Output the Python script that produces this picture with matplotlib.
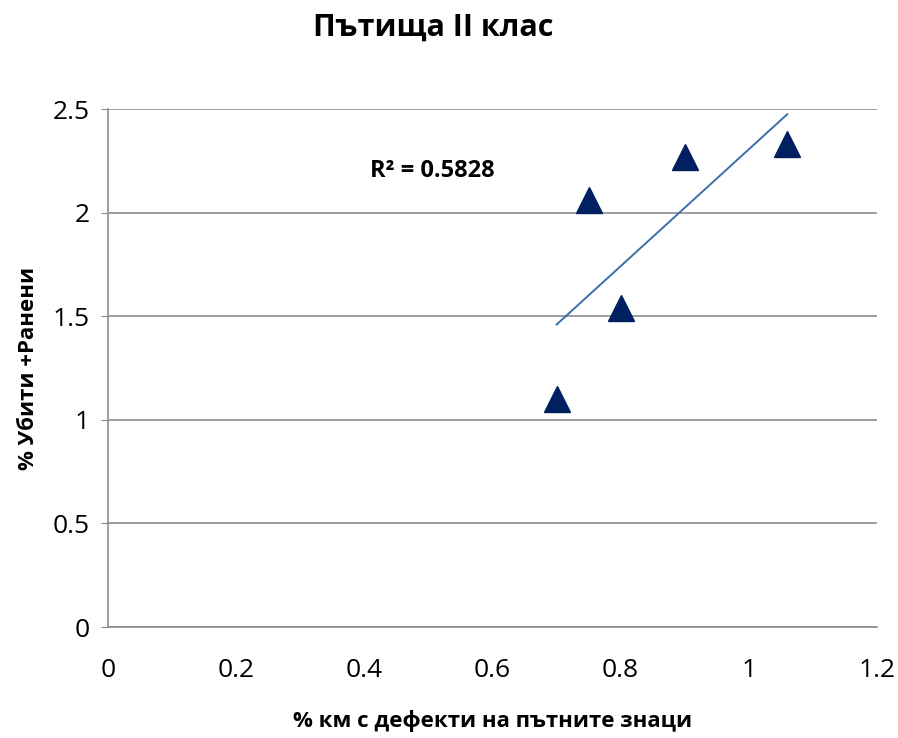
import matplotlib
matplotlib.use("Agg")
import matplotlib.pyplot as plt
import numpy as np
from matplotlib import font_manager

x_vals = [0.70, 0.75, 0.80, 0.90, 1.06]
y_vals = [1.10, 2.06, 1.54, 2.27, 2.33]
x_ticks = [0, 0.2, 0.4, 0.6, 0.8, 1, 1.2]
x_tick_labels = ["0", "0.2", "0.4", "0.6", "0.8", "1", "1.2"]
y_ticks = [0, 0.5, 1, 1.5, 2, 2.5]
y_tick_labels = ["0", "0.5", "1", "1.5", "2", "2.5"]
title = "Пътища II клас"
xlabel = "% км с дефекти на пътните знаци"
ylabel = "% Убити +Ранени"
r2_text = "R² = 0.5828"

names = {f.name for f in font_manager.fontManager.ttflist}
fam = "Liberation Sans Narrow" if "Liberation Sans Narrow" in names else "Open Sans"
plt.rcParams["font.family"] = [fam, "DejaVu Sans"]

fig = plt.figure(figsize=(8.98, 7.38), dpi=100)
ax = fig.add_axes([0.1203, 0.1504, 0.8563, 0.7019])

ax.set_xlim(0, 1.2)
ax.set_ylim(0, 2.5)
ax.set_xticks(x_ticks)
ax.set_xticklabels(x_tick_labels)
ax.set_yticks(y_ticks)
ax.set_yticklabels(y_tick_labels)
ax.yaxis.grid(True, color="#8c8c8c", linewidth=1.2)
ax.set_axisbelow(True)
for s in ["top", "right"]:
    ax.spines[s].set_visible(False)
for s in ["left", "bottom"]:
    ax.spines[s].set_color("#8c8c8c")
    ax.spines[s].set_linewidth(1.2)
ax.tick_params(axis="y", length=5, color="#8c8c8c", labelsize=19, pad=8)
ax.tick_params(axis="x", length=0, labelsize=19, pad=22)

ax.plot(x_vals, y_vals, linestyle="none", marker="^", markersize=19,
        color="#002060", zorder=3)

coef = np.polyfit(x_vals, y_vals, 1)
xl = np.array([min(x_vals), max(x_vals)])
ax.plot(xl, np.polyval(coef, xl), color="#3a6fa8", linewidth=1.4, zorder=2)

ax.text(0.409, 2.2, r2_text, fontsize=17, fontweight="bold", va="center", ha="left")

fig.text(0.482, 0.962, title, fontsize=22, fontweight="bold", ha="center", va="center")
ax.set_xlabel(xlabel, fontsize=16, fontweight="bold", labelpad=20)
ax.set_ylabel(ylabel, fontsize=16, fontweight="bold", labelpad=10)

fig.savefig("out.png", dpi=100)
